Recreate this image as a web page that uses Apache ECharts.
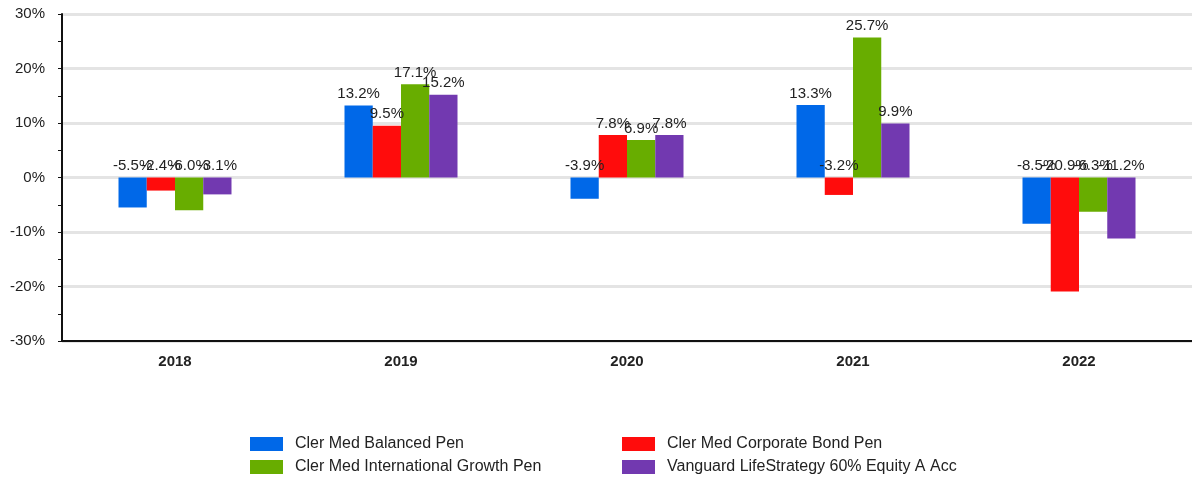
<!DOCTYPE html>
<html>
<head>
<meta charset="utf-8">
<script src="https://cdn.jsdelivr.net/npm/echarts@6/dist/echarts.min.js"></script>
<style>
  html, body { margin: 0; padding: 0; background: #fff; }
  #chart { width: 1192px; height: 479px; }
</style>
</head>
<body>
<div id="chart"></div>
<script>
const years = ['2018', '2019', '2020', '2021', '2022']
const seriesNames = [
  'Cler Med Balanced Pen',
  'Cler Med Corporate Bond Pen',
  'Cler Med International Growth Pen',
  'Vanguard LifeStrategy 60% Equity A Acc'
]
const balanced = [-5.5, 13.2, -3.9, 13.3, -8.5]
const corporateBond = [-2.4, 9.5, 7.8, -3.2, -20.9]
const intlGrowth = [-6.0, 17.1, 6.9, 25.7, -6.3]
const vanguard60 = [-3.1, 15.2, 7.8, 9.9, -11.2]
const colors = ['#0068E8', '#FF0C0C', '#68AD00', '#7239B0']

const chart = echarts.init(document.getElementById('chart'))
const font = '"Liberation Sans", Arial, sans-serif'

const makeSeries = (name, data, color) => ({
  name: name,
  type: 'bar',
  data: data,
  barGap: '0%',
  barCategoryGap: '50%',
  itemStyle: { color: color },
  label: {
    show: true,
    position: 'top',
    distance: 4,
    color: '#222',
    fontFamily: font,
    fontSize: 15,
    formatter: p => p.value.toFixed(1) + '%'
  }
})

// two columns of legend, one legend per column (narrow width forces wrap)
const makeLegend = (names, left) => ({
  data: names,
  orient: 'horizontal',
  width: 40,
  left: left, top: 431,
  itemWidth: 33, itemHeight: 14, itemGap: 7,
  icon: 'rect',
  textStyle: { color: '#222', fontFamily: font, fontSize: 16, padding: [0, 0, 0, 7] }
})

const option = {
  animation: false,
  grid: { left: 62, right: 0, top: 14, bottom: 138 },
  legend: [
    makeLegend([seriesNames[0], seriesNames[2]], 245),
    makeLegend([seriesNames[1], seriesNames[3]], 617)
  ],
  xAxis: {
    type: 'category',
    data: years,
    axisLine: { onZero: false, lineStyle: { color: '#111', width: 2 } },
    axisTick: { alignWithLabel: true, length: 5, lineStyle: { color: '#111' } },
    axisLabel: { color: '#222', fontFamily: font, fontSize: 15, fontWeight: 'bold', margin: 13 }
  },
  yAxis: {
    type: 'value',
    min: -30, max: 30, interval: 10,
    axisLine: { show: true, lineStyle: { color: '#111', width: 2 } },
    axisTick: { show: true, length: 4, lineStyle: { color: '#111' } },
    minorTick: { show: true, splitNumber: 2, length: 4, lineStyle: { color: '#111' } },
    splitLine: { lineStyle: { color: '#e4e4e4', width: 3 } },
    axisLabel: { color: '#222', fontFamily: font, fontSize: 15, margin: 17, formatter: v => v + '%' }
  },
  series: [
    makeSeries(seriesNames[0], balanced, colors[0]),
    makeSeries(seriesNames[1], corporateBond, colors[1]),
    makeSeries(seriesNames[2], intlGrowth, colors[2]),
    makeSeries(seriesNames[3], vanguard60, colors[3])
  ]
}

chart.setOption(option)
</script>
</body>
</html>
